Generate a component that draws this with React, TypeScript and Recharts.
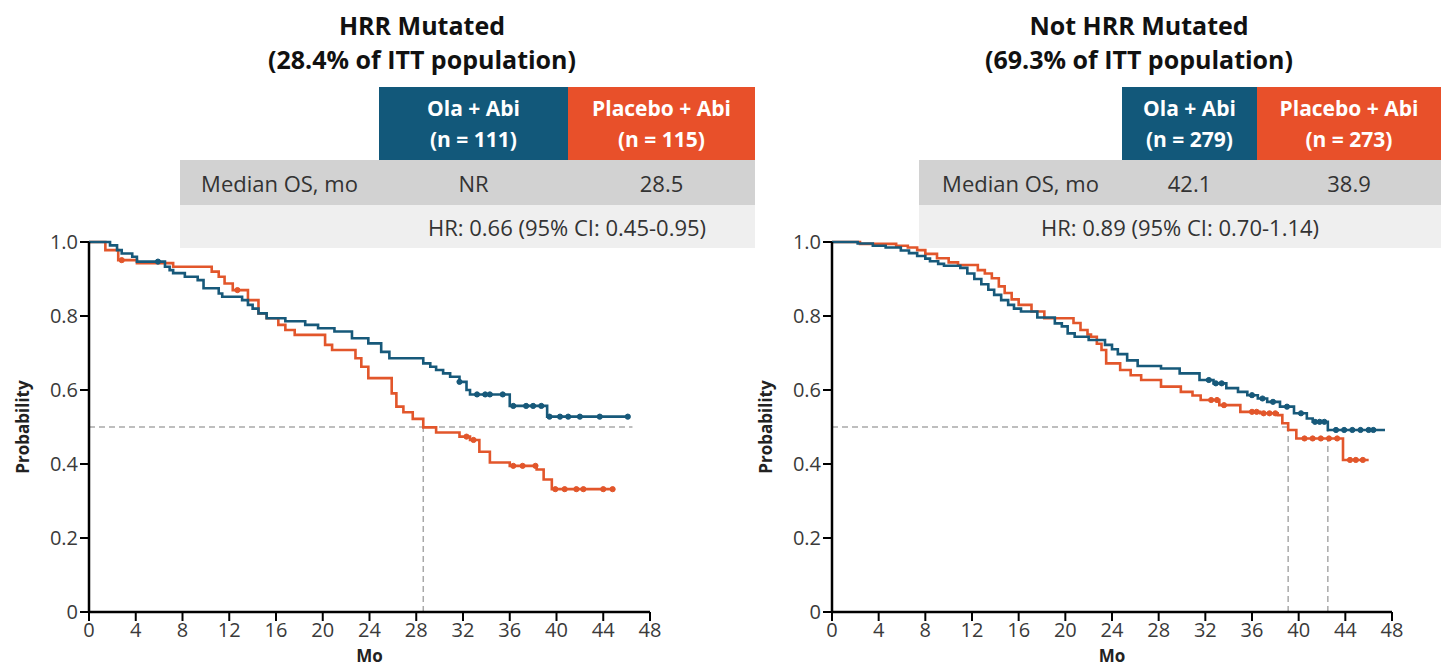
import { ComposedChart, Line, XAxis, YAxis, ReferenceLine, Label } from "recharts";

const BLUE = "#17597a";
const ORANGE = "#e2562b";
const HEAD_BLUE = "#12587a";
const HEAD_ORANGE = "#e8502a";

const monthTicks = [0, 4, 8, 12, 16, 20, 24, 28, 32, 36, 40, 44, 48];
const probTicks = [0, 0.2, 0.4, 0.6, 0.8, 1];

// HRR mutated — Ola + Abi
const hrrOlaT = [0, 1.8, 2.4, 2.8, 3.7, 4.1, 6.5, 6.9, 7.2, 8.2, 9.3, 9.8, 11.1, 11.4, 13.1, 13.6, 14.0, 14.5, 15.2, 16.8, 18.5, 19.6, 21.0, 22.5, 23.9, 25.0, 25.7, 28.6, 29.2, 29.7, 30.3, 30.9, 31.7, 32.3, 32.6, 36.0, 39.2, 46.1];
const hrrOlaS = [1.0, 0.991, 0.978, 0.969, 0.96, 0.947, 0.933, 0.924, 0.916, 0.906, 0.897, 0.875, 0.861, 0.852, 0.843, 0.83, 0.82, 0.807, 0.794, 0.786, 0.776, 0.767, 0.758, 0.74, 0.726, 0.703, 0.686, 0.672, 0.663, 0.654, 0.645, 0.636, 0.622, 0.6, 0.588, 0.557, 0.528, 0.528];
const hrrOlaCensored = [5.9, 31.7, 33.2, 33.9, 34.3, 35.4, 36.3, 37.4, 38.0, 38.7, 39.4, 40.3, 41.0, 42.0, 43.7, 46.1];

// HRR mutated — Placebo + Abi
const hrrPboT = [0, 1.4, 2.5, 4.1, 7.2, 10.5, 11.1, 11.6, 12.3, 13.6, 14.5, 15.2, 16.2, 16.8, 17.6, 20.2, 20.8, 22.8, 23.3, 23.9, 25.9, 26.3, 26.9, 27.7, 28.6, 29.7, 31.7, 32.6, 33.4, 34.3, 36.0, 38.3, 38.9, 39.6, 45.0];
const hrrPboS = [1.0, 0.978, 0.951, 0.943, 0.933, 0.92, 0.906, 0.888, 0.87, 0.843, 0.807, 0.794, 0.776, 0.762, 0.749, 0.722, 0.708, 0.686, 0.663, 0.632, 0.591, 0.555, 0.54, 0.522, 0.499, 0.485, 0.474, 0.465, 0.433, 0.404, 0.395, 0.385, 0.358, 0.332, 0.332];
const hrrPboCensored = [2.8, 12.7, 32.3, 32.9, 36.3, 37.1, 38.2, 39.9, 40.7, 41.7, 42.3, 44.0, 44.8];

// Not HRR mutated — Ola + Abi
const nhrrOlaT = [0, 2.2, 3.5, 4.6, 5.9, 6.6, 7.3, 8.0, 8.4, 9.1, 9.6, 11.0, 11.6, 12.2, 12.8, 13.4, 13.9, 14.5, 15.1, 15.6, 16.2, 17.6, 19.1, 19.7, 20.2, 20.8, 22.0, 23.4, 24.0, 24.5, 25.3, 26.2, 28.2, 29.8, 31.5, 32.7, 33.8, 34.8, 35.6, 36.5, 37.3, 38.4, 39.6, 40.7, 41.2, 42.5, 47.4];
const nhrrOlaS = [1.0, 0.996, 0.99, 0.985, 0.977, 0.97, 0.962, 0.955, 0.948, 0.941, 0.936, 0.93, 0.915, 0.9, 0.886, 0.871, 0.857, 0.843, 0.83, 0.82, 0.812, 0.796, 0.78, 0.772, 0.753, 0.744, 0.735, 0.722, 0.71, 0.697, 0.68, 0.665, 0.658, 0.645, 0.627, 0.618, 0.605, 0.595, 0.586, 0.577, 0.568, 0.555, 0.537, 0.523, 0.514, 0.492, 0.492];
const nhrrOlaCensored = [32.3, 32.9, 33.4, 36.0, 36.9, 37.8, 39.0, 40.2, 41.4, 41.8, 42.2, 43.2, 43.9, 44.6, 45.3, 46.0, 46.4];

// Not HRR mutated — Placebo + Abi
const nhrrPboT = [0, 2.4, 5.5, 6.5, 7.3, 8.0, 9.0, 10.0, 10.8, 12.5, 13.1, 13.7, 14.3, 14.8, 15.4, 16.0, 17.1, 18.2, 20.7, 21.3, 21.9, 22.2, 22.7, 23.1, 23.5, 24.7, 25.6, 26.5, 28.2, 29.9, 30.9, 31.6, 33.2, 35.0, 36.7, 38.2, 38.6, 39.1, 39.8, 43.8, 46.0];
const nhrrPboS = [1.0, 0.995, 0.99, 0.985, 0.978, 0.968, 0.956, 0.945, 0.938, 0.924, 0.915, 0.902, 0.88, 0.862, 0.845, 0.83, 0.812, 0.794, 0.781, 0.762, 0.75, 0.744, 0.725, 0.708, 0.672, 0.654, 0.64, 0.627, 0.609, 0.595, 0.585, 0.573, 0.559, 0.541, 0.537, 0.532, 0.51, 0.492, 0.469, 0.411, 0.411];
const nhrrPboCensored = [32.5, 33.0, 33.6, 36.0, 36.4, 37.0, 37.5, 38.0, 40.5, 41.2, 41.9, 42.6, 43.3, 44.4, 44.9, 45.5];

// dashed median guides
const hrrMedianLine = 46.5;
const hrrMedians = [28.6];
const nhrrMedianLine = 39.1;
const nhrrMedians = [39.1, 42.5];

const steps = (t: number[], s: number[]) => t.map((m, i) => ({ t: m, s: s[i] }));
const survAt = (t: number[], s: number[], m: number) => {
  let v = s[0];
  for (let i = 0; i < t.length; i++) if (t[i] <= m) v = s[i];
  return v;
};
const marks = (t: number[], s: number[], c: number[]) => c.map((m) => ({ t: m, s: survAt(t, s, m) }));

const tickFmt = (v: number) => (v === 0 ? "0" : v.toFixed(1));
const tickStyle = { fill: "#3a3a3a", fontSize: 20, style: { fontSize: 20 } };

function KmPanel({ left, width, plotW, ola, pbo, olaMarks, pboMarks, hEnd, medians }: any) {
  const grid = "#a9a9a9";
  return (
    <div style={{ position: "absolute", left, top: 212 }}>
      <ComposedChart width={width} height={455} margin={{ top: 30, right: width - 89 - plotW, bottom: 0, left: 0 }}>
        <XAxis
          type="number"
          dataKey="t"
          domain={[0, 48]}
          ticks={monthTicks}
          interval={0}
          height={55}
          fontSize={20}
          axisLine={{ stroke: "#000", strokeWidth: 2.5 }}
          tickLine={{ stroke: "#000", strokeWidth: 2 }}
          tickSize={9}
          tick={tickStyle}
        >
          <Label value="Mo" position="insideBottom" offset={5} style={{ fontWeight: 700, fill: "#222", fontSize: 17 }} />
        </XAxis>
        <YAxis
          type="number"
          dataKey="s"
          domain={[0, 1]}
          ticks={probTicks}
          interval={0}
          width={89}
          fontSize={20}
          tickFormatter={tickFmt}
          axisLine={{ stroke: "#000", strokeWidth: 2.5 }}
          tickLine={{ stroke: "#000", strokeWidth: 2 }}
          tickSize={9}
          tick={tickStyle}
        >
          <Label
            content={({ viewBox }: any) => (
              <text
                x={22}
                y={viewBox.y + viewBox.height / 2}
                transform={`rotate(-90, 22, ${viewBox.y + viewBox.height / 2})`}
                textAnchor="middle"
                dominantBaseline="central"
                style={{ fontWeight: 700, fill: "#222", fontSize: 17 }}
              >
                Probability
              </text>
            )}
          />
        </YAxis>
        <ReferenceLine
          segment={[{ x: 0, y: 0.5 }, { x: hEnd, y: 0.5 }]}
          stroke={grid}
          strokeWidth={1.5}
          strokeDasharray="6 4"
        />
        {medians.map((m: number) => (
          <ReferenceLine
            key={m}
            segment={[{ x: m, y: 0 }, { x: m, y: 0.5 }]}
            stroke={grid}
            strokeWidth={1.5}
            strokeDasharray="6 4"
          />
        ))}
        <Line data={pbo} dataKey="s" type="stepAfter" stroke={ORANGE} strokeWidth={2.6} dot={false} isAnimationActive={false} />
        <Line data={ola} dataKey="s" type="stepAfter" stroke={BLUE} strokeWidth={2.6} dot={false} isAnimationActive={false} />
        <Line data={pboMarks} dataKey="s" stroke="none" dot={{ r: 2.6, fill: ORANGE, stroke: ORANGE, strokeWidth: 1 }} isAnimationActive={false} />
        <Line data={olaMarks} dataKey="s" stroke="none" dot={{ r: 2.6, fill: BLUE, stroke: BLUE, strokeWidth: 1 }} isAnimationActive={false} />
      </ComposedChart>
    </div>
  );
}

const cellText = { color: "#333", fontSize: 22, display: "flex", alignItems: "center", justifyContent: "center", position: "absolute" as const };

function Header({ x, w, bg, l1, l2 }: any) {
  return (
    <div
      style={{
        position: "absolute", left: x, top: 87, width: w, height: 73, background: bg,
        color: "#fff", fontWeight: 700, fontSize: 21, lineHeight: "31px", textAlign: "center", paddingTop: 6, boxSizing: "border-box",
      }}
    >
      <div>{l1}</div>
      <div>{l2}</div>
    </div>
  );
}

function SummaryTable({ x0, x1, x2, x3, n1, n2, med1, med2, hr, hrFrom }: any) {
  return (
    <>
      <Header x={x1} w={x2 - x1} bg={HEAD_BLUE} l1="Ola + Abi" l2={n1} />
      <Header x={x2} w={x3 - x2} bg={HEAD_ORANGE} l1="Placebo + Abi" l2={n2} />
      <div style={{ position: "absolute", left: x0, top: 160, width: x3 - x0, height: 45, background: "#d2d2d2" }} />
      <div style={{ ...cellText, left: x0, top: 160, width: x1 - x0, height: 45 }}>Median OS, mo</div>
      <div style={{ ...cellText, left: x1, top: 160, width: x2 - x1, height: 45 }}>{med1}</div>
      <div style={{ ...cellText, left: x2, top: 160, width: x3 - x2, height: 45 }}>{med2}</div>
      <div style={{ position: "absolute", left: x0, top: 205, width: x3 - x0, height: 43, background: "#efefef" }} />
      <div style={{ ...cellText, left: hrFrom, top: 205, width: x3 - hrFrom, height: 43 }}>{hr}</div>
    </>
  );
}

function Title({ cx, l1, l2 }: any) {
  return (
    <div
      style={{
        position: "absolute", left: cx - 300, top: 8, width: 600, textAlign: "center",
        fontWeight: 700, fontSize: 25, lineHeight: "34px", color: "#111",
      }}
    >
      <div>{l1}</div>
      <div>{l2}</div>
    </div>
  );
}

export default function App() {
  return (
    <div
      style={{
        position: "absolute", left: 0, top: 0, width: 1441, height: 667, overflow: "hidden",
        background: "#fff", fontFamily: "'Open Sans', sans-serif",
      }}
    >
      <Title cx={422} l1="HRR Mutated" l2="(28.4% of ITT population)" />
      <Title cx={1139} l1="Not HRR Mutated" l2="(69.3% of ITT population)" />
      <SummaryTable x0={180} x1={379} x2={568} x3={755} n1="(n = 111)" n2="(n = 115)" med1="NR" med2="28.5" hr="HR: 0.66 (95% CI: 0.45-0.95)" hrFrom={379} />
      <SummaryTable x0={919} x1={1122} x2={1257} x3={1441} n1="(n = 279)" n2="(n = 273)" med1="42.1" med2="38.9" hr="HR: 0.89 (95% CI: 0.70-1.14)" hrFrom={919} />
      <KmPanel
        left={0}
        width={680}
        plotW={561}
        ola={steps(hrrOlaT, hrrOlaS)}
        pbo={steps(hrrPboT, hrrPboS)}
        olaMarks={marks(hrrOlaT, hrrOlaS, hrrOlaCensored)}
        pboMarks={marks(hrrPboT, hrrPboS, hrrPboCensored)}
        hEnd={hrrMedianLine}
        medians={hrrMedians}
      />
      <KmPanel
        left={743}
        width={679}
        plotW={560}
        ola={steps(nhrrOlaT, nhrrOlaS)}
        pbo={steps(nhrrPboT, nhrrPboS)}
        olaMarks={marks(nhrrOlaT, nhrrOlaS, nhrrOlaCensored)}
        pboMarks={marks(nhrrPboT, nhrrPboS, nhrrPboCensored)}
        hEnd={nhrrMedianLine}
        medians={nhrrMedians}
      />
    </div>
  );
}
